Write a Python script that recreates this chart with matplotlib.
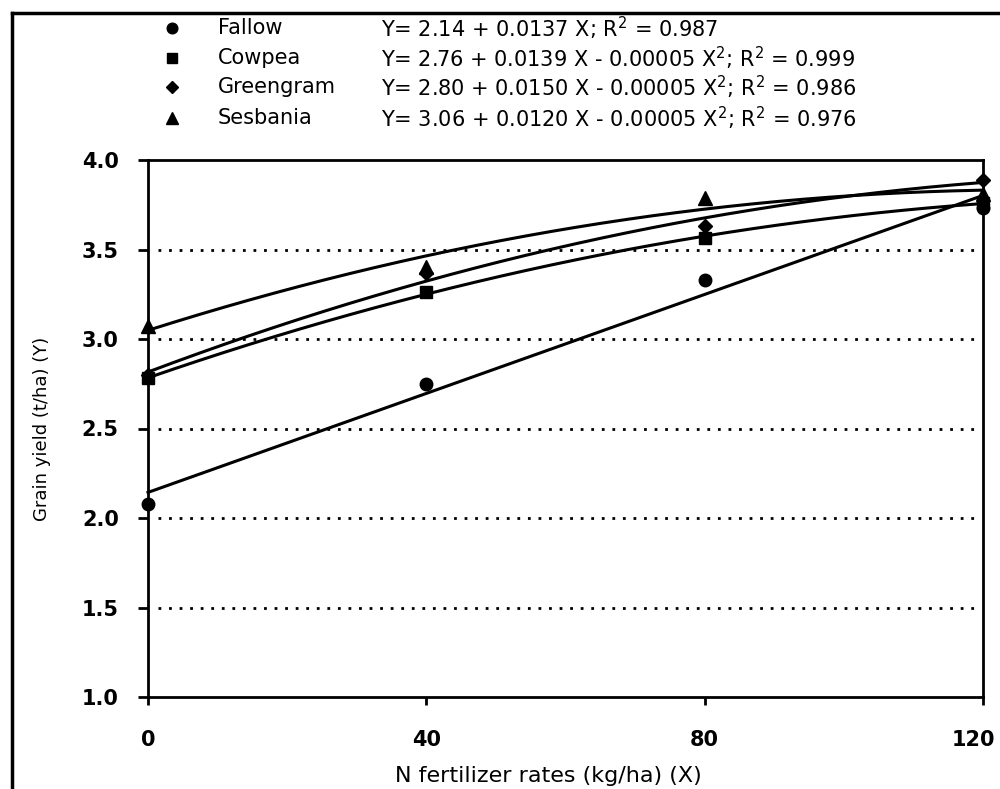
import numpy as np
import matplotlib
matplotlib.use("Agg")
import matplotlib.pyplot as plt
import matplotlib.transforms as mtransforms
from matplotlib.lines import Line2D

plt.rcParams['font.family'] = ['DejaVu Sans']

# N rates (kg/ha)
n_rates = [0, 40, 80, 120]

# grain yield (t/ha)
fallow = [2.08, 2.75, 3.33, 3.73]
cowpea = [2.78, 3.26, 3.565, 3.76]
greengram = [2.80, 3.37, 3.63, 3.89]
sesbania = [3.07, 3.40, 3.79, 3.81]

series_names = ["Fallow", "Cowpea", "Greengram", "Sesbania"]
equations = [
    "Y= 2.14 + 0.0137 X; R$^2$ = 0.987",
    "Y= 2.76 + 0.0139 X - 0.00005 X$^2$; R$^2$ = 0.999",
    "Y= 2.80 + 0.0150 X - 0.00005 X$^2$; R$^2$ = 0.986",
    "Y= 3.06 + 0.0120 X - 0.00005 X$^2$; R$^2$ = 0.976",
]
fit_degree = [1, 2, 2, 2]
markers = ["o", "s", "D", "^"]
msizes = [9, 8.5, 7, 10]

yticks = [1.0, 1.5, 2.0, 2.5, 3.0, 3.5, 4.0]
xticks = [0, 40, 80, 120]

fig = plt.figure(figsize=(10, 7.89), dpi=100)
ax = fig.add_axes([0.148, 1 - 697 / 789, (983 - 148) / 1000, (697 - 160) / 789])

# dotted reference lines
for yv in yticks[1:-1]:
    ax.axhline(yv, xmin=0.012, xmax=0.995, color="black", lw=2,
               linestyle=(0, (1, 2.8)), zorder=1)

xs = np.linspace(0, 120, 200)
for vals, deg, mk, ms in zip([fallow, cowpea, greengram, sesbania], fit_degree, markers, msizes):
    coef = np.polyfit(n_rates, vals, deg)
    ax.plot(xs, np.polyval(coef, xs), color="black", lw=2.2, zorder=3, clip_on=False)
    ax.plot(n_rates, vals, linestyle="none", marker=mk, markersize=ms,
            color="black", zorder=4, clip_on=False)

ax.set_xlim(0, 120)
ax.set_ylim(1.0, 4.0)
ax.set_xticks(xticks)
ax.set_xticklabels([str(v) for v in xticks], fontsize=15, fontweight="bold")
ax.set_yticks(yticks)
ax.set_yticklabels(["%.1f" % v for v in yticks], fontsize=15, fontweight="bold")
ax.tick_params(axis="y", direction="out", length=7, width=2, pad=14)
ax.tick_params(axis="x", direction="out", length=6, width=2, pad=18)
for sp in ax.spines.values():
    sp.set_linewidth(2)
    sp.set_color("black")

# last x label sits a bit left so it stays inside the page
last = ax.get_xticklabels()[-1]
last.set_transform(last.get_transform() +
                   mtransforms.ScaledTranslation(-10 / 100, 0, fig.dpi_scale_trans))

ax.set_xlabel("N fertilizer rates (kg/ha) (X)", fontsize=16)
ax.xaxis.set_label_coords(0.479, -0.147)
ax.xaxis.label.set_va("center")
ax.set_ylabel("Grain yield (t/ha) (Y)", fontsize=13, labelpad=22)

# legend block above the plot
row_y = [28, 58, 87, 118]
for name, eq, mk, ms, yp in zip(series_names, equations, markers, msizes, row_y):
    fy = 1 - yp / 789
    fig.add_artist(Line2D([0.172], [fy], transform=fig.transFigure, marker=mk,
                          markersize=ms * 0.85, color="black", linestyle="none"))
    fig.text(0.218, fy, name, fontsize=15, va="center", ha="left")
    fig.text(0.381, fy, eq, fontsize=15, va="center", ha="left")

# outer frame (left and top edges visible)
fig.add_artist(Line2D([0.012, 0.012], [0, 1 - 13 / 789], transform=fig.transFigure,
                      color="black", lw=2.5))
fig.add_artist(Line2D([0.012, 1.0], [1 - 13 / 789, 1 - 13 / 789], transform=fig.transFigure,
                      color="black", lw=2.5))

fig.savefig("out.png", dpi=100)
